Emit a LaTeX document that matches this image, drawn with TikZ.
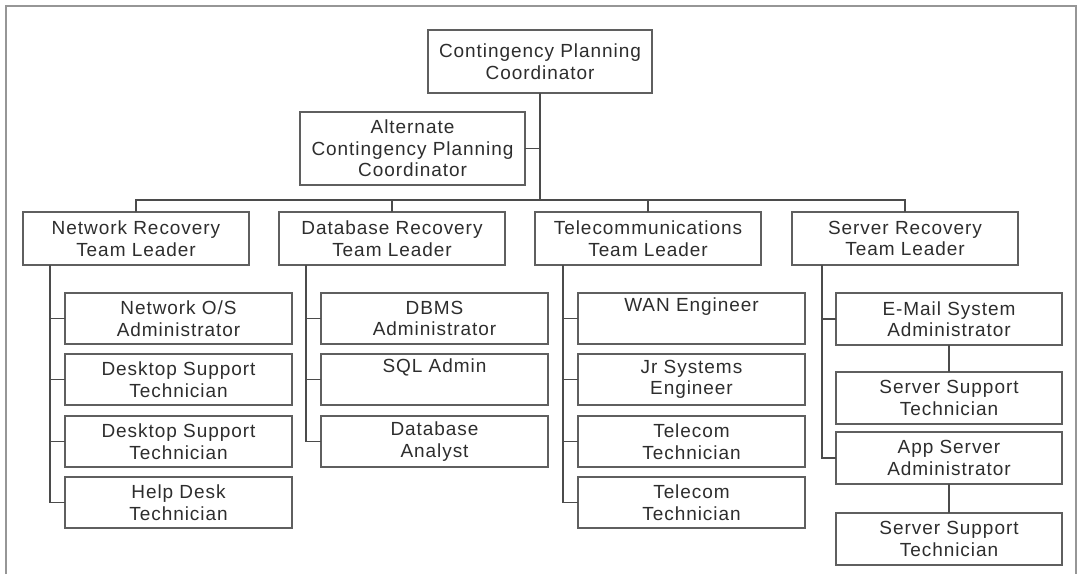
\documentclass[tikz,border=0pt]{standalone}
\usepackage{fontspec}
\setmainfont{Liberation Sans}[LetterSpace=5]
\definecolor{txt}{RGB}{45,45,45}
\definecolor{edgec}{RGB}{95,95,95}
\definecolor{wirec}{RGB}{75,75,75}
\definecolor{frm}{RGB}{150,150,150}
\begin{document}
\begin{tikzpicture}[x=1pt,y=-1pt,
  box/.style={draw=edgec, line width=1.4pt, rectangle, inner sep=0pt, outer sep=0pt,
    anchor=north west, align=center, text=txt, font=\fontsize{19}{21.5}\selectfont},
  lead/.style={box, minimum width=226pt, minimum height=53pt},
  sub/.style={box, minimum width=227pt, minimum height=51pt},
  srv/.style={box, minimum width=226pt, minimum height=52pt},
  wire/.style={draw=wirec, line width=1.4pt},
  frame/.style={draw=frm, line width=1.6pt}]
\useasboundingbox (0,0) rectangle (1086,574);
\draw[frame] (6,574) -- (6,6) -- (1076,6) -- (1076,574);

% top level
\node[box, minimum width=224pt, minimum height=63pt] (top) at (428,30) {Contingency Planning\\Coordinator};
\node[box, minimum width=225pt, minimum height=73pt] (alt) at (300,112) {Alternate\\Contingency Planning\\Coordinator};

% team leaders
\node[lead] (nl) at (23,212) {Network Recovery\\Team Leader};
\node[lead] (dl) at (279,212) {Database Recovery\\Team Leader};
\node[lead] (tl) at (535,212) {Telecommunications\\Team Leader};
\node[lead] (sl) at (792,212) {Server Recovery\\Team Leader};

% network column
\node[sub] (n1) at (65,293) {Network O/S\\Administrator};
\node[sub] (n2) at (65,354) {Desktop Support\\Technician};
\node[sub] (n3) at (65,416) {Desktop Support\\Technician};
\node[sub] (n4) at (65,477) {Help Desk\\Technician};

% database column
\node[sub] (d1) at (321,293) {DBMS\\Administrator};
\node[sub] (d2) at (321,354) {SQL Admin\\\strut};
\node[sub] (d3) at (321,416) {Database\\Analyst};

% telecom column
\node[sub] (t1) at (578,293) {WAN Engineer\\\strut};
\node[sub] (t2) at (578,354) {Jr Systems\\Engineer};
\node[sub] (t3) at (578,416) {Telecom\\Technician};
\node[sub] (t4) at (578,477) {Telecom\\Technician};

% server column
\node[srv] (s1) at (836,293) {E-Mail System\\Administrator};
\node[srv] (s2) at (836,372) {Server Support\\Technician};
\node[srv] (s3) at (836,432) {App Server\\Administrator};
\node[srv] (s4) at (836,513) {Server Support\\Technician};

% connectors
\coordinate (bus) at (top.south |- 0,200);
\draw[wire] (top.south) -- (bus);
\draw[wire] (alt.east) -- (alt.east -| top.south);
\draw[wire] (nl.north) |- (bus) -| (sl.north);
\draw[wire] (dl.north) |- (bus);
\draw[wire] (tl.north) |- (bus);

\foreach \c in {n1,n2,n3,n4} \draw[wire] ([xshift=27pt]nl.south west) |- (\c.west);
\foreach \c in {d1,d2,d3} \draw[wire] ([xshift=27pt]dl.south west) |- (\c.west);
\foreach \c in {t1,t2,t3,t4} \draw[wire] ([xshift=28pt]tl.south west) |- (\c.west);
\foreach \c in {s1,s3} \draw[wire] ([xshift=30pt]sl.south west) |- (\c.west);
\draw[wire] (s1.south) -- (s2.north);
\draw[wire] (s3.south) -- (s4.north);
\end{tikzpicture}
\end{document}
